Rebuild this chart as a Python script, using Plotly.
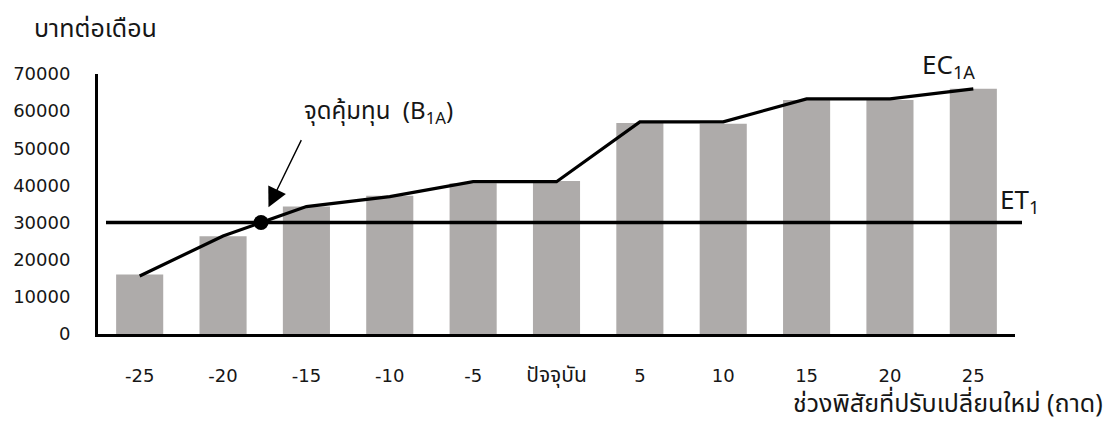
import numpy as np
import plotly.graph_objects as go

# Categories (tray range change) and monthly values in baht
categories = ["-25", "-20", "-15", "-10", "-5", "ปัจจุบัน", "5", "10", "15", "20", "25"]
bar_values = [16000, 26300, 34300, 37200, 40600, 41200, 56800, 56600, 63000, 63000, 66000]
ec_values = [15600, 26400, 34300, 37000, 41000, 41000, 57100, 57100, 63300, 63300, 66000]
et_value = 30000
y_ticks = [0, 10000, 20000, 30000, 40000, 50000, 60000, 70000]

FONT = "Tahoma, 'Noto Sans Thai', 'Noto Sans', 'DejaVu Sans', sans-serif"
TICK_FONT = "'DejaVu Sans', 'Noto Sans Thai', sans-serif"
INK = "#161616"
W, H = 1109, 425
L, R, T, B = 98, 94, 74, 91
pw, ph = W - L - R, H - T - B


def px(x):
    return (x - L) / pw


def py(y):
    return 1 - (y - T) / ph


def tick_label(s):
    # Thai labels use a slightly larger size so they match the numerals
    if any("\u0e00" <= ch <= "\u0e7f" for ch in s):
        return f'<span style="font-size:21px">{s}</span>'
    return s


idx = np.arange(len(categories))

# Break-even point: where the EC line crosses the ET level
ec = np.array(ec_values, dtype=float)
seg = int(np.argmax(ec >= et_value)) - 1
t = (et_value - ec[seg]) / (ec[seg + 1] - ec[seg])
be_x = idx[seg] + t

fig = go.Figure()
fig.add_trace(go.Bar(x=idx, y=bar_values, marker=dict(color="#AEABAA", line=dict(width=0)),
                     width=0.565, showlegend=False, hoverinfo="skip"))
fig.add_trace(go.Scatter(x=idx, y=ec_values, mode="lines",
                         line=dict(color="black", width=3.2), showlegend=False, hoverinfo="skip"))
fig.add_trace(go.Scatter(x=[be_x], y=[et_value], mode="markers",
                         marker=dict(color="black", size=15), showlegend=False, hoverinfo="skip"))

# ET level line (extends slightly beyond the plot area)
fig.add_shape(type="line", xref="paper", yref="y", x0=px(106), x1=px(1022),
              y0=et_value, y1=et_value, line=dict(color="black", width=3.5), layer="above")

annotations = [
    dict(text="บาทต่อเดือน", xref="paper", yref="paper", x=px(32), y=py(29),
         xanchor="left", yanchor="middle", showarrow=False,
         font=dict(size=25, color=INK, family=FONT)),
    dict(text="ช่วงพิสัยที่ปรับเปลี่ยนใหม่ (ถาด)", xref="paper", yref="paper", x=px(1105), y=py(404),
         xanchor="right", yanchor="middle", showarrow=False,
         font=dict(size=25, color=INK, family=FONT)),
    dict(text="EC<sub>1A</sub>", xref="paper", yref="paper", x=px(920), y=py(66),
         xanchor="left", yanchor="middle", showarrow=False,
         font=dict(size=26, color=INK, family=FONT)),
    dict(text="ET<sub>1</sub>", xref="paper", yref="paper", x=px(998), y=py(201),
         xanchor="left", yanchor="middle", showarrow=False,
         font=dict(size=26, color=INK, family=FONT)),
    dict(text="จุดคุ้มทุน  (B<sub>1A</sub>)", xref="paper", yref="paper", x=px(302), y=py(113),
         xanchor="left", yanchor="middle", showarrow=False,
         font=dict(size=24, color=INK, family=FONT)),
    dict(text="", x=be_x, y=et_value, xref="x", yref="y", showarrow=True,
         ax=41, ay=-84, standoff=17, arrowhead=2, arrowsize=2.8, arrowwidth=1.4,
         arrowcolor="black"),
]

fig.update_layout(
    width=W, height=H, autosize=False,
    margin=dict(l=L, r=R, t=T, b=B),
    plot_bgcolor="white", paper_bgcolor="white",
    annotations=annotations,
    bargap=0.44,
    xaxis=dict(range=[-0.5, len(categories) - 0.5], tickmode="array", tickvals=idx,
               ticktext=[tick_label(c) for c in categories], showgrid=False, zeroline=False,
               showline=True, linecolor="black", linewidth=3,
               ticks="", ticklabelstandoff=23,
               tickfont=dict(size=18, color=INK, family=TICK_FONT)),
    yaxis=dict(range=[0, 70000], tickmode="array", tickvals=y_ticks,
               ticktext=[str(v) for v in y_ticks], showgrid=False, zeroline=False,
               showline=True, linecolor="black", linewidth=3,
               ticks="", ticklabelstandoff=21,
               tickfont=dict(size=18, color=INK, family=TICK_FONT)),
)

fig.write_html("out.html")
